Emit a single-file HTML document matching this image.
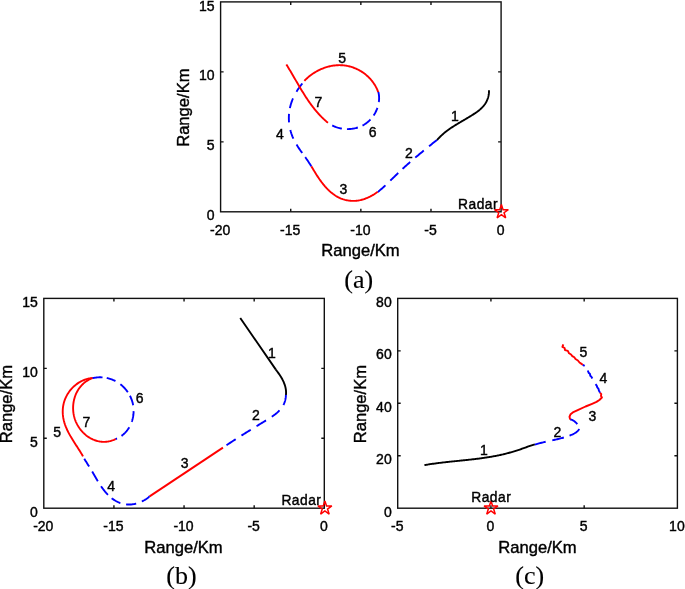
<!DOCTYPE html>
<html><head><meta charset="utf-8"><title>Trajectories</title>
<style>
html,body{margin:0;padding:0;background:#fff;}
svg{display:block}
text{font-family:"Liberation Sans",Arial,sans-serif;fill:#000;stroke:#000;stroke-width:0.4px}
.tk{font-size:14px}
.lb{font-size:16.6px}
.nm{font-size:14px}
.rd{font-size:13.8px;letter-spacing:0.5px}
.cap{font-family:"Liberation Serif","Times New Roman",serif;font-size:26px;stroke-width:0.12px}
</style></head><body>
<svg width="685" height="589" viewBox="0 0 685 589">
<rect width="685" height="589" fill="#fff"/>
<rect x="220.60" y="1.90" width="280.50" height="209.90" fill="none" stroke="#111" stroke-width="1.4"/>
<path d="M290.73 211.80 v-3.00 M290.73 1.90 v3.00 M360.85 211.80 v-3.00 M360.85 1.90 v3.00 M430.98 211.80 v-3.00 M430.98 1.90 v3.00 M220.60 71.87 h3.00 M501.10 71.87 h-3.00 M220.60 141.83 h3.00 M501.10 141.83 h-3.00 " stroke="#111" stroke-width="1.4" fill="none"/>
<text x="220.10" y="234.60" text-anchor="middle" class="tk">-20</text>
<text x="290.23" y="234.60" text-anchor="middle" class="tk">-15</text>
<text x="360.35" y="234.60" text-anchor="middle" class="tk">-10</text>
<text x="430.48" y="234.60" text-anchor="middle" class="tk">-5</text>
<text x="500.60" y="234.60" text-anchor="middle" class="tk">0</text>
<text x="214.60" y="10.50" text-anchor="end" class="tk">15</text>
<text x="214.60" y="80.47" text-anchor="end" class="tk">10</text>
<text x="214.60" y="150.43" text-anchor="end" class="tk">5</text>
<text x="214.60" y="220.40" text-anchor="end" class="tk">0</text>
<text x="360.50" y="256.30" text-anchor="middle" class="lb">Range/Km</text>
<text transform="translate(188.90 107.65) rotate(-90)" text-anchor="middle" class="lb">Range/Km</text>
<path d="M488.98 90.28 L489.00 91.20 L488.98 92.11 L488.92 93.01 L488.83 93.90 L488.71 94.77 L488.55 95.63 L488.36 96.47 L488.15 97.30 L487.90 98.12 L487.62 98.92 L487.32 99.71 L486.98 100.48 L486.63 101.24 L486.24 101.98 L485.83 102.70 L485.39 103.41 L484.93 104.11 L484.45 104.78 L483.95 105.44 L483.42 106.09 L482.88 106.71 L482.31 107.32 L481.73 107.92 L481.13 108.49 L480.51 109.06 L479.88 109.61 L479.23 110.15 L478.57 110.68 L477.90 111.20 L477.22 111.71 L476.53 112.20 L475.84 112.69 L475.13 113.18 L474.42 113.65 L473.71 114.12 L472.99 114.58 L472.27 115.04 L471.54 115.50 L470.82 115.95 L470.09 116.40 L469.36 116.84 L468.63 117.28 L467.90 117.72 L467.17 118.16 L466.44 118.59 L465.70 119.02 L464.97 119.45 L464.23 119.88 L463.50 120.31 L462.76 120.74 L462.03 121.17 L461.30 121.60 L460.57 122.03 L459.84 122.46 L459.11 122.90 L458.38 123.33 L457.65 123.77 L456.93 124.20 L456.20 124.65 L455.48 125.09 L454.77 125.54 L454.05 125.99 L453.34 126.44 L452.63 126.90 L451.92 127.36 L451.22 127.83 L450.52 128.30 L449.83 128.78 L449.14 129.27 L448.45 129.76 L447.77 130.26 L447.09 130.76 L446.42 131.27 L445.75 131.79 L445.09 132.32 L444.43 132.85 L443.78 133.39 L443.14 133.94 L442.50 134.51 L441.87 135.08 L441.24 135.65 L440.62 136.24 L440.01 136.85 L439.41 137.46 L438.81 138.08 L438.22 138.71 L437.64 139.36 L437.06 140.01" fill="none" stroke="#000" stroke-width="1.9" stroke-linejoin="round"/>
<path d="M437.00 139.90 L436.34 140.43 L435.67 140.96 L435.01 141.49 L434.35 142.02 L433.69 142.55 L433.03 143.09 L432.36 143.62 L431.70 144.15 L431.04 144.68 L430.38 145.22 L429.72 145.75 L429.06 146.28 L428.40 146.82 L427.74 147.35 L427.08 147.89 L426.42 148.42 L425.76 148.96 L425.10 149.49 L424.44 150.03 L423.79 150.57 L423.13 151.11 L422.47 151.65 L421.82 152.19 L421.16 152.73 L420.51 153.27 L419.85 153.81 L419.20 154.35 L418.55 154.90 L417.90 155.44 L417.25 155.99 L416.60 156.53 L415.95 157.08 L415.30 157.63 L414.65 158.18 L414.01 158.73 L413.36 159.28 L412.72 159.84 L412.07 160.39 L411.43 160.95 L410.79 161.50 L410.15 162.06 L409.51 162.62 L408.88 163.18 L408.24 163.74 L407.61 164.31 L406.97 164.87 L406.34 165.44 L405.71 166.01 L405.08 166.57 L404.45 167.15 L403.83 167.72 L403.20 168.29 L402.58 168.87 L401.96 169.45 L401.34 170.03 L400.72 170.61 L400.10 171.19 L399.48 171.77 L398.87 172.36 L398.25 172.94 L397.64 173.53 L397.03 174.12 L396.42 174.71 L395.81 175.29 L395.20 175.89 L394.59 176.48 L393.98 177.07 L393.37 177.66 L392.76 178.25 L392.16 178.84 L391.55 179.44 L390.94 180.03 L390.34 180.62 L389.73 181.22 L389.13 181.81 L388.52 182.40 L387.91 182.99 L387.30 183.58 L386.69 184.17 L386.08 184.75 L385.47 185.33 L384.85 185.91 L384.23 186.49 L383.60 187.06 L382.97 187.62 L382.34 188.18 L381.70 188.74 L381.05 189.29 L380.40 189.83 L379.74 190.37 L379.08 190.89 L378.41 191.42 L377.73 191.93" fill="none" stroke="#0000ff" stroke-width="1.9" stroke-dasharray="10.19 6.79 11.04 6.79 10.19 5.94 11.03 6.78 10.17 1000.00"/>
<path d="M377.66 191.77 L377.00 192.28 L376.32 192.77 L375.64 193.26 L374.94 193.74 L374.23 194.21 L373.51 194.66 L372.78 195.10 L372.04 195.53 L371.29 195.95 L370.54 196.35 L369.77 196.74 L369.00 197.11 L368.22 197.47 L367.43 197.81 L366.63 198.14 L365.83 198.45 L365.03 198.75 L364.21 199.03 L363.40 199.29 L362.58 199.53 L361.75 199.75 L360.92 199.96 L360.09 200.15 L359.25 200.31 L358.42 200.46 L357.58 200.58 L356.74 200.69 L355.90 200.77 L355.05 200.83 L354.21 200.87 L353.37 200.89 L352.53 200.88 L351.69 200.86 L350.86 200.81 L350.02 200.74 L349.19 200.64 L348.36 200.53 L347.54 200.40 L346.71 200.24 L345.90 200.07 L345.09 199.87 L344.28 199.65 L343.49 199.42 L342.69 199.16 L341.91 198.88 L341.13 198.59 L340.37 198.27 L339.61 197.94 L338.86 197.58 L338.11 197.21 L337.38 196.81 L336.66 196.40 L335.95 195.98 L335.24 195.53 L334.55 195.07 L333.86 194.59 L333.18 194.10 L332.52 193.59 L331.86 193.07 L331.20 192.54 L330.56 191.99 L329.93 191.42 L329.30 190.85 L328.68 190.26 L328.07 189.67 L327.47 189.06 L326.87 188.44 L326.29 187.81 L325.71 187.17 L325.13 186.53 L324.57 185.87 L324.01 185.21 L323.46 184.54 L322.92 183.86 L322.38 183.18 L321.86 182.49 L321.33 181.80 L320.82 181.10 L320.31 180.40 L319.81 179.69 L319.31 178.99 L318.82 178.27 L318.34 177.56 L317.86 176.85 L317.39 176.13 L316.93 175.41 L316.47 174.70 L316.01 173.98 L315.56 173.27 L315.12 172.55 L314.68 171.84 L314.25 171.13 L313.83 170.43 L313.41 169.72 L312.99 169.03 L312.58 168.33 L312.17 167.64 L311.77 166.96 L311.37 166.28" fill="none" stroke="#ff0000" stroke-width="1.9" stroke-linejoin="round"/>
<path d="M311.23 166.26 L310.81 165.53 L310.37 164.81 L309.93 164.10 L309.48 163.39 L309.02 162.68 L308.56 161.98 L308.09 161.28 L307.62 160.58 L307.14 159.88 L306.66 159.19 L306.17 158.50 L305.68 157.81 L305.19 157.12 L304.69 156.43 L304.20 155.74 L303.70 155.06 L303.20 154.37 L302.71 153.68 L302.21 152.99 L301.72 152.31 L301.23 151.62 L300.74 150.93 L300.25 150.23 L299.77 149.54 L299.29 148.84 L298.82 148.14 L298.35 147.44 L297.89 146.73 L297.44 146.03 L296.99 145.31 L296.55 144.60 L296.12 143.87 L295.69 143.15 L295.28 142.42 L294.88 141.68 L294.49 140.94 L294.10 140.19 L293.74 139.44 L293.38 138.68 L293.03 137.91 L292.70 137.14 L292.38 136.36 L292.08 135.57 L291.79 134.78 L291.51 133.98 L291.24 133.18 L290.99 132.37 L290.75 131.56 L290.53 130.74 L290.32 129.92 L290.12 129.10 L289.94 128.27 L289.77 127.44 L289.62 126.60 L289.48 125.77 L289.35 124.93 L289.24 124.09 L289.14 123.25 L289.06 122.40 L288.99 121.56 L288.93 120.71 L288.89 119.86 L288.87 119.02 L288.86 118.17 L288.86 117.32 L288.88 116.48 L288.91 115.63 L288.96 114.79 L289.03 113.94 L289.11 113.10 L289.20 112.26 L289.31 111.43 L289.44 110.59 L289.58 109.76 L289.73 108.93 L289.90 108.10 L290.08 107.28 L290.28 106.46 L290.49 105.64 L290.71 104.83 L290.95 104.02 L291.20 103.21 L291.46 102.41 L291.74 101.61 L292.03 100.82 L292.33 100.03 L292.65 99.24 L292.98 98.47 L293.32 97.69 L293.67 96.92 L294.03 96.16 L294.41 95.41 L294.80 94.65 L295.20 93.91 L295.61 93.17 L296.03 92.44 L296.47 91.72 L296.91 91.00 L297.37 90.29 L297.83 89.58 L298.31 88.88 L298.79 88.19 L299.28 87.50 L299.77 86.81 L300.27 86.14 L300.78 85.46 L301.29 84.79 L301.81 84.12 L302.32 83.46 L302.85 82.80 L303.37 82.15 L303.89 81.49 L304.41 80.84" fill="none" stroke="#0000ff" stroke-width="1.9" stroke-dasharray="10.96 5.08 10.13 6.72 9.29 7.63 8.47 5.91 10.13 7.61 10.13 1000.00"/>
<path d="M304.37 80.86 L304.95 80.25 L305.54 79.66 L306.14 79.07 L306.76 78.50 L307.38 77.93 L308.01 77.38 L308.66 76.83 L309.31 76.29 L309.97 75.77 L310.65 75.25 L311.33 74.75 L312.02 74.26 L312.72 73.77 L313.43 73.30 L314.15 72.84 L314.87 72.39 L315.61 71.95 L316.35 71.53 L317.09 71.12 L317.85 70.71 L318.61 70.33 L319.37 69.95 L320.15 69.59 L320.93 69.24 L321.71 68.90 L322.50 68.58 L323.29 68.27 L324.09 67.97 L324.90 67.69 L325.70 67.42 L326.52 67.16 L327.33 66.92 L328.15 66.70 L328.97 66.49 L329.80 66.29 L330.62 66.11 L331.45 65.94 L332.28 65.79 L333.12 65.66 L333.95 65.54 L334.79 65.44 L335.62 65.35 L336.46 65.28 L337.30 65.22 L338.14 65.19 L338.98 65.17 L339.81 65.16 L340.65 65.18 L341.49 65.21 L342.32 65.26 L343.15 65.32 L343.99 65.41 L344.81 65.51 L345.64 65.63 L346.47 65.76 L347.29 65.92 L348.11 66.09 L348.92 66.27 L349.73 66.48 L350.54 66.70 L351.34 66.93 L352.14 67.19 L352.93 67.45 L353.72 67.74 L354.50 68.04 L355.28 68.36 L356.05 68.69 L356.81 69.03 L357.57 69.39 L358.32 69.77 L359.06 70.16 L359.80 70.57 L360.53 70.99 L361.25 71.43 L361.96 71.88 L362.66 72.34 L363.35 72.82 L364.04 73.31 L364.71 73.82 L365.38 74.34 L366.03 74.87 L366.68 75.42 L367.31 75.98 L367.93 76.55 L368.54 77.13 L369.14 77.73 L369.73 78.34 L370.31 78.97 L370.87 79.60 L371.42 80.25 L371.96 80.91 L372.48 81.59 L372.99 82.27 L373.49 82.97 L373.97 83.67 L374.44 84.39 L374.89 85.12 L375.33 85.86 L375.75 86.62 L376.16 87.38 L376.55 88.15 L376.92 88.94 L377.28 89.73 L377.62 90.54 L377.95 91.35 L378.26 92.18" fill="none" stroke="#ff0000" stroke-width="1.9" stroke-linejoin="round"/>
<path d="M378.37 92.02 L378.55 92.83 L378.71 93.65 L378.85 94.48 L378.95 95.31 L379.03 96.14 L379.08 96.98 L379.10 97.82 L379.09 98.66 L379.07 99.50 L379.01 100.34 L378.93 101.19 L378.82 102.03 L378.69 102.87 L378.54 103.70 L378.36 104.54 L378.16 105.37 L377.94 106.19 L377.70 107.01 L377.43 107.82 L377.14 108.63 L376.83 109.43 L376.50 110.22 L376.15 111.01 L375.78 111.78 L375.39 112.54 L374.98 113.29 L374.55 114.03 L374.10 114.76 L373.64 115.48 L373.15 116.18 L372.65 116.87 L372.14 117.54 L371.60 118.20 L371.05 118.84 L370.49 119.47 L369.90 120.08 L369.31 120.67 L368.69 121.24 L368.06 121.80 L367.42 122.34 L366.76 122.86 L366.09 123.36 L365.40 123.84 L364.70 124.31 L363.99 124.75 L363.26 125.17 L362.52 125.57 L361.77 125.94 L361.00 126.30 L360.23 126.63 L359.44 126.95 L358.64 127.24 L357.84 127.51 L357.03 127.75 L356.21 127.98 L355.39 128.19 L354.56 128.37 L353.73 128.53 L352.89 128.67 L352.05 128.80 L351.20 128.90 L350.36 128.97 L349.51 129.03 L348.66 129.07 L347.81 129.08 L346.95 129.08 L346.10 129.05 L345.25 129.00 L344.41 128.94 L343.56 128.85 L342.72 128.74 L341.88 128.61 L341.04 128.45 L340.21 128.28 L339.38 128.09 L338.56 127.87 L337.75 127.64 L336.94 127.39 L336.14 127.11 L335.35 126.81 L334.56 126.50 L333.79 126.16 L333.03 125.80 L332.27 125.42 L331.53 125.02 L330.80 124.60 L330.08 124.16 L329.37 123.70 L328.68 123.22 L328.00 122.72" fill="none" stroke="#0000ff" stroke-width="1.9" stroke-dasharray="10.08 5.97 8.57 5.09 10.08 5.07 11.05 5.11 10.16 1000.00"/>
<path d="M327.97 122.75 L327.30 122.21 L326.65 121.66 L326.00 121.11 L325.36 120.55 L324.72 119.98 L324.10 119.40 L323.48 118.83 L322.86 118.24 L322.25 117.65 L321.65 117.05 L321.05 116.45 L320.46 115.85 L319.88 115.24 L319.30 114.62 L318.73 114.00 L318.16 113.37 L317.60 112.74 L317.04 112.10 L316.49 111.46 L315.95 110.82 L315.41 110.17 L314.87 109.52 L314.34 108.86 L313.81 108.20 L313.29 107.53 L312.77 106.86 L312.26 106.19 L311.75 105.51 L311.25 104.83 L310.75 104.15 L310.25 103.46 L309.76 102.77 L309.27 102.08 L308.78 101.38 L308.30 100.68 L307.82 99.98 L307.35 99.28 L306.87 98.57 L306.40 97.86 L305.94 97.15 L305.47 96.44 L305.01 95.72 L304.56 95.00 L304.10 94.28 L303.65 93.56 L303.20 92.84 L302.75 92.11 L302.30 91.38 L301.86 90.66 L301.42 89.93 L300.98 89.20 L300.54 88.46 L300.10 87.73 L299.67 87.00 L299.23 86.26 L298.80 85.53 L298.37 84.79 L297.94 84.06 L297.51 83.32 L297.08 82.59 L296.65 81.85 L296.22 81.11 L295.79 80.38 L295.37 79.64 L294.94 78.90 L294.51 78.17 L294.09 77.43 L293.66 76.70 L293.23 75.97 L292.81 75.23 L292.38 74.50 L291.95 73.77 L291.52 73.04 L291.09 72.31 L290.66 71.58 L290.23 70.86 L289.80 70.13 L289.37 69.41 L288.93 68.69 L288.50 67.97 L288.06 67.25 L287.62 66.54 L287.18 65.83 L286.74 65.11 L286.30 64.41" fill="none" stroke="#ff0000" stroke-width="1.9" stroke-linejoin="round"/>
<path d="M501.40 204.60 L503.04 209.64 L508.34 209.64 L504.05 212.76 L505.69 217.81 L501.40 214.69 L497.11 217.81 L498.75 212.76 L494.46 209.64 L499.76 209.64Z" fill="none" stroke="#ff0000" stroke-width="1.5" stroke-linejoin="miter" stroke-miterlimit="2.2"/>
<text x="458.0" y="208.6" class="rd">Radar</text>
<text x="454.85" y="120.70" text-anchor="middle" class="nm">1</text>
<text x="408.80" y="158.10" text-anchor="middle" class="nm">2</text>
<text x="343.50" y="194.20" text-anchor="middle" class="nm">3</text>
<text x="280.00" y="138.90" text-anchor="middle" class="nm">4</text>
<text x="342.20" y="62.90" text-anchor="middle" class="nm">5</text>
<text x="372.60" y="136.60" text-anchor="middle" class="nm">6</text>
<text x="318.35" y="106.60" text-anchor="middle" class="nm">7</text>
<text x="358.7" y="288.0" text-anchor="middle" class="cap">(a)</text>
<rect x="43.80" y="298.40" width="280.50" height="209.80" fill="none" stroke="#111" stroke-width="1.4"/>
<path d="M113.92 508.20 v-3.00 M113.92 298.40 v3.00 M184.05 508.20 v-3.00 M184.05 298.40 v3.00 M254.18 508.20 v-3.00 M254.18 298.40 v3.00 M43.80 368.33 h3.00 M324.30 368.33 h-3.00 M43.80 438.27 h3.00 M324.30 438.27 h-3.00 " stroke="#111" stroke-width="1.4" fill="none"/>
<text x="43.30" y="531.00" text-anchor="middle" class="tk">-20</text>
<text x="113.42" y="531.00" text-anchor="middle" class="tk">-15</text>
<text x="183.55" y="531.00" text-anchor="middle" class="tk">-10</text>
<text x="253.68" y="531.00" text-anchor="middle" class="tk">-5</text>
<text x="323.80" y="531.00" text-anchor="middle" class="tk">0</text>
<text x="37.80" y="307.00" text-anchor="end" class="tk">15</text>
<text x="37.80" y="376.93" text-anchor="end" class="tk">10</text>
<text x="37.80" y="446.87" text-anchor="end" class="tk">5</text>
<text x="37.80" y="516.80" text-anchor="end" class="tk">0</text>
<text x="183.50" y="552.70" text-anchor="middle" class="lb">Range/Km</text>
<text transform="translate(11.90 404.10) rotate(-90)" text-anchor="middle" class="lb">Range/Km</text>
<path d="M240.25 317.95 L258.05 343.80 L275.85 369.60" fill="none" stroke="#000" stroke-width="1.9" stroke-linejoin="round"/>
<path d="M275.83 369.62 L276.35 370.31 L276.88 371.00 L277.40 371.70 L277.91 372.40 L278.42 373.11 L278.93 373.83 L279.42 374.56 L279.91 375.29 L280.39 376.03 L280.86 376.78 L281.32 377.53 L281.76 378.30 L282.19 379.06 L282.60 379.84 L282.99 380.62 L283.37 381.41 L283.73 382.21 L284.06 383.02 L284.38 383.83 L284.67 384.64 L284.94 385.47 L285.18 386.30 L285.39 387.14 L285.58 387.99 L285.74 388.84 L285.87 389.70 L285.97 390.57 L286.03 391.45 L286.06 392.33 L286.06 393.22 L286.02 394.11 L285.94 395.02" fill="none" stroke="#000" stroke-width="1.9" stroke-linejoin="round"/>
<path d="M285.91 394.86 L285.88 395.80 L285.82 396.73 L285.72 397.63 L285.59 398.52 L285.43 399.39 L285.23 400.24 L285.00 401.07 L284.74 401.88 L284.45 402.68 L284.13 403.46 L283.78 404.22 L283.40 404.97 L283.00 405.69 L282.58 406.41 L282.13 407.10 L281.66 407.78 L281.17 408.44 L280.65 409.09 L280.12 409.72 L279.56 410.34 L278.99 410.94 L278.41 411.53 L277.80 412.10 L277.19 412.66 L276.55 413.21 L275.91 413.74 L275.25 414.27 L274.58 414.78 L273.90 415.28 L273.21 415.78 L272.51 416.27 L271.81 416.75 L271.10 417.22 L270.38 417.69 L269.66 418.15 L268.93 418.61 L268.20 419.07 L267.47 419.52 L266.74 419.97 L266.00 420.42 L265.27 420.87 L264.54 421.32 L263.81 421.76 L263.08 422.21 L262.35 422.65 L261.62 423.10 L260.89 423.54 L260.16 423.99 L259.44 424.43 L258.71 424.88 L257.98 425.32 L257.26 425.76 L256.54 426.21 L255.81 426.65 L255.09 427.09 L254.37 427.54 L253.64 427.98 L252.92 428.42 L252.20 428.87 L251.48 429.31 L250.76 429.75 L250.04 430.20 L249.32 430.64 L248.61 431.09 L247.89 431.53 L247.17 431.98 L246.45 432.42 L245.74 432.87 L245.02 433.32 L244.30 433.76 L243.59 434.21 L242.87 434.66 L242.16 435.11 L241.45 435.56 L240.73 436.01 L240.02 436.46 L239.30 436.91 L238.59 437.37 L237.88 437.82 L237.17 438.27 L236.45 438.73 L235.74 439.19 L235.03 439.65 L234.32 440.11 L233.61 440.57 L232.90 441.03 L232.18 441.49 L231.47 441.96 L230.76 442.42 L230.05 442.89 L229.34 443.36 L228.63 443.83 L227.92 444.30 L227.21 444.77 L226.50 445.25 L225.79 445.72 L225.08 446.20 L224.37 446.68 L223.66 447.16 L222.95 447.65" fill="none" stroke="#0000ff" stroke-width="1.9" stroke-dasharray="10.51 6.62 10.09 6.87 11.10 6.78 10.98 6.76 11.05 1000.00"/>
<path d="M222.95 447.60 L149.60 496.40" fill="none" stroke="#ff0000" stroke-width="1.9" stroke-linejoin="round"/>
<path d="M149.59 496.34 L148.96 496.89 L148.32 497.43 L147.66 497.95 L146.99 498.45 L146.30 498.94 L145.59 499.41 L144.87 499.86 L144.13 500.30 L143.38 500.72 L142.62 501.11 L141.85 501.49 L141.06 501.85 L140.27 502.19 L139.47 502.51 L138.66 502.81 L137.84 503.09 L137.02 503.34 L136.19 503.57 L135.36 503.78 L134.52 503.97 L133.68 504.13 L132.83 504.26 L131.99 504.37 L131.14 504.46 L130.29 504.52 L129.45 504.55 L128.60 504.55 L127.76 504.53 L126.92 504.48 L126.09 504.40 L125.26 504.29 L124.43 504.15 L123.62 503.99 L122.80 503.80 L122.00 503.58 L121.20 503.33 L120.41 503.06 L119.63 502.77 L118.85 502.45 L118.09 502.11 L117.33 501.74 L116.58 501.36 L115.85 500.96 L115.12 500.53 L114.41 500.09 L113.70 499.63 L113.01 499.15 L112.33 498.66 L111.66 498.15 L111.01 497.63 L110.37 497.09 L109.74 496.54 L109.12 495.97 L108.52 495.39 L107.93 494.80 L107.34 494.20 L106.77 493.58 L106.21 492.96 L105.66 492.32 L105.11 491.68 L104.58 491.02 L104.05 490.36 L103.53 489.69 L103.03 489.01 L102.52 488.32 L102.03 487.63 L101.54 486.92 L101.06 486.22 L100.58 485.50 L100.11 484.79 L99.65 484.06 L99.19 483.34 L98.73 482.61 L98.28 481.88 L97.83 481.14 L97.39 480.40 L96.95 479.66 L96.51 478.92 L96.07 478.18 L95.64 477.44 L95.21 476.70 L94.77 475.96 L94.34 475.22 L93.91 474.49 L93.48 473.75 L93.05 473.02 L92.62 472.29 L92.19 471.57 L91.75 470.85 L91.32 470.13 L90.88 469.41 L90.44 468.70 L90.01 467.99 L89.57 467.28 L89.13 466.58 L88.69 465.87 L88.25 465.17 L87.80 464.46 L87.36 463.75 L86.92 463.04 L86.48 462.33 L86.04 461.62 L85.59 460.91 L85.15 460.19 L84.71 459.47 L84.27 458.75 L83.83 458.02 L83.39 457.28 L82.95 456.54" fill="none" stroke="#0000ff" stroke-width="1.9" stroke-dasharray="9.33 6.04 10.19 5.85 10.07 5.02 11.01 6.02 11.12 5.85 9.22 1000.00"/>
<path d="M83.02 456.41 L82.63 455.71 L82.24 455.02 L81.84 454.33 L81.42 453.63 L81.00 452.94 L80.58 452.24 L80.14 451.54 L79.71 450.84 L79.26 450.13 L78.81 449.43 L78.36 448.72 L77.90 448.01 L77.44 447.30 L76.98 446.59 L76.52 445.87 L76.05 445.16 L75.59 444.44 L75.12 443.71 L74.66 442.99 L74.19 442.26 L73.73 441.53 L73.27 440.80 L72.81 440.07 L72.36 439.33 L71.90 438.59 L71.46 437.85 L71.02 437.11 L70.58 436.36 L70.15 435.61 L69.73 434.85 L69.31 434.10 L68.90 433.34 L68.50 432.58 L68.11 431.81 L67.73 431.04 L67.35 430.27 L66.99 429.49 L66.64 428.71 L66.30 427.93 L65.97 427.15 L65.66 426.36 L65.36 425.56 L65.07 424.77 L64.80 423.97 L64.54 423.16 L64.30 422.36 L64.08 421.54 L63.87 420.73 L63.68 419.91 L63.50 419.09 L63.34 418.26 L63.20 417.44 L63.08 416.61 L62.98 415.78 L62.89 414.95 L62.82 414.11 L62.77 413.28 L62.74 412.45 L62.73 411.61 L62.74 410.78 L62.77 409.95 L62.81 409.12 L62.88 408.29 L62.97 407.47 L63.07 406.64 L63.20 405.82 L63.35 405.00 L63.52 404.19 L63.71 403.38 L63.92 402.57 L64.15 401.77 L64.40 400.97 L64.68 400.18 L64.97 399.40 L65.29 398.62 L65.62 397.85 L65.98 397.09 L66.35 396.33 L66.74 395.59 L67.15 394.85 L67.58 394.12 L68.03 393.40 L68.49 392.69 L68.97 391.99 L69.47 391.31 L69.98 390.63 L70.52 389.97 L71.06 389.32 L71.63 388.68 L72.20 388.06 L72.80 387.45 L73.41 386.85 L74.03 386.27 L74.67 385.71 L75.32 385.16 L75.98 384.63 L76.66 384.11 L77.35 383.62 L78.05 383.13 L78.77 382.67 L79.49 382.23 L80.23 381.80 L80.98 381.40 L81.75 381.01 L82.52 380.65 L83.30 380.31 L84.09 379.99 L84.90 379.69 L85.71 379.41 L86.53 379.15 L87.36 378.92 L88.20 378.72 L89.05 378.53 L89.90 378.37 L90.76 378.24 L91.63 378.13 L92.51 378.05" fill="none" stroke="#ff0000" stroke-width="1.9" stroke-linejoin="round"/>
<path d="M92.30 378.19 L93.15 378.00 L94.00 377.83 L94.85 377.69 L95.70 377.57 L96.56 377.47 L97.41 377.39 L98.27 377.33 L99.13 377.30 L99.98 377.29 L100.84 377.30 L101.69 377.34 L102.54 377.39 L103.38 377.47 L104.23 377.57 L105.07 377.69 L105.91 377.83 L106.74 377.99 L107.57 378.17 L108.39 378.37 L109.20 378.59 L110.01 378.83 L110.81 379.10 L111.61 379.38 L112.39 379.68 L113.17 380.00 L113.94 380.35 L114.70 380.71 L115.44 381.09 L116.18 381.48 L116.91 381.90 L117.63 382.34 L118.33 382.79 L119.02 383.26 L119.71 383.75 L120.37 384.26 L121.03 384.78 L121.67 385.32 L122.30 385.87 L122.92 386.44 L123.52 387.02 L124.11 387.62 L124.68 388.23 L125.24 388.85 L125.78 389.49 L126.31 390.14 L126.82 390.81 L127.32 391.48 L127.80 392.17 L128.26 392.87 L128.71 393.58 L129.13 394.30 L129.55 395.03 L129.94 395.76 L130.31 396.51 L130.67 397.27 L131.01 398.04 L131.32 398.81 L131.62 399.59 L131.90 400.38 L132.16 401.18 L132.40 401.98 L132.62 402.79 L132.82 403.60 L132.99 404.42 L133.15 405.24 L133.28 406.07 L133.39 406.91 L133.48 407.74 L133.54 408.58 L133.59 409.42 L133.61 410.26 L133.62 411.11 L133.60 411.95 L133.56 412.79 L133.49 413.64 L133.41 414.48 L133.31 415.32 L133.18 416.15 L133.04 416.98 L132.87 417.81 L132.68 418.64 L132.47 419.45 L132.25 420.27 L132.00 421.07 L131.73 421.87 L131.44 422.66 L131.13 423.44 L130.79 424.22 L130.44 424.98 L130.07 425.73 L129.68 426.48 L129.27 427.21 L128.84 427.93 L128.39 428.63 L127.92 429.33 L127.43 430.01 L126.92 430.67 L126.40 431.32 L125.85 431.95 L125.28 432.57 L124.70 433.17 L124.09 433.75 L123.47 434.32 L122.82 434.86 L122.16 435.39 L121.48 435.89 L120.78 436.38 L120.06 436.84 L119.33 437.28 L118.57 437.70 L117.80 438.10 L117.01 438.47 L116.20 438.81 L115.37 439.14" fill="none" stroke="#0000ff" stroke-width="1.9" stroke-dasharray="10.31 4.25 9.27 5.87 10.89 4.19 10.05 5.89 10.98 5.88 11.75 5.17 1.77 1000.00"/>
<path d="M115.66 439.03 L114.84 439.43 L114.00 439.80 L113.17 440.14 L112.33 440.44 L111.49 440.72 L110.64 440.96 L109.80 441.17 L108.95 441.35 L108.11 441.51 L107.26 441.63 L106.41 441.73 L105.57 441.80 L104.73 441.84 L103.89 441.85 L103.05 441.83 L102.21 441.79 L101.38 441.72 L100.56 441.63 L99.73 441.51 L98.92 441.36 L98.11 441.19 L97.30 441.00 L96.50 440.78 L95.71 440.53 L94.93 440.27 L94.15 439.98 L93.38 439.66 L92.63 439.33 L91.88 438.97 L91.14 438.60 L90.41 438.20 L89.69 437.78 L88.98 437.34 L88.28 436.89 L87.60 436.41 L86.92 435.91 L86.26 435.40 L85.61 434.87 L84.97 434.33 L84.34 433.76 L83.73 433.18 L83.13 432.59 L82.55 431.98 L81.98 431.35 L81.42 430.71 L80.88 430.06 L80.36 429.39 L79.85 428.72 L79.35 428.03 L78.88 427.32 L78.42 426.61 L77.98 425.88 L77.55 425.15 L77.14 424.40 L76.75 423.65 L76.38 422.88 L76.03 422.11 L75.70 421.33 L75.39 420.54 L75.09 419.74 L74.82 418.94 L74.57 418.13 L74.33 417.31 L74.12 416.49 L73.93 415.67 L73.76 414.84 L73.61 414.01 L73.47 413.17 L73.36 412.33 L73.27 411.49 L73.20 410.65 L73.15 409.80 L73.11 408.96 L73.10 408.12 L73.11 407.27 L73.14 406.43 L73.18 405.58 L73.25 404.74 L73.34 403.91 L73.44 403.07 L73.57 402.24 L73.71 401.41 L73.88 400.58 L74.06 399.77 L74.26 398.95 L74.49 398.14 L74.73 397.34 L74.99 396.55 L75.27 395.76 L75.57 394.98 L75.89 394.21 L76.23 393.44 L76.59 392.69 L76.97 391.95 L77.36 391.21 L77.78 390.49 L78.21 389.78 L78.67 389.08 L79.14 388.39 L79.63 387.72 L80.14 387.06 L80.67 386.41 L81.22 385.78 L81.79 385.16 L82.37 384.56 L82.98 383.98 L83.60 383.41 L84.24 382.85 L84.91 382.32 L85.59 381.80 L86.28 381.30 L87.00 380.82 L87.74 380.36 L88.49 379.92 L89.26 379.50 L90.05 379.10 L90.86 378.72 L91.69 378.36 L92.54 378.03" fill="none" stroke="#ff0000" stroke-width="1.9" stroke-linejoin="round"/>
<path d="M324.90 500.90 L326.54 505.94 L331.84 505.94 L327.55 509.06 L329.19 514.11 L324.90 510.99 L320.61 514.11 L322.25 509.06 L317.96 505.94 L323.26 505.94Z" fill="none" stroke="#ff0000" stroke-width="1.5" stroke-linejoin="miter" stroke-miterlimit="2.2"/>
<text x="281.4" y="504.8" class="rd">Radar</text>
<text x="271.90" y="357.80" text-anchor="middle" class="nm">1</text>
<text x="255.80" y="419.90" text-anchor="middle" class="nm">2</text>
<text x="184.65" y="468.00" text-anchor="middle" class="nm">3</text>
<text x="111.03" y="490.70" text-anchor="middle" class="nm">4</text>
<text x="57.20" y="436.90" text-anchor="middle" class="nm">5</text>
<text x="139.60" y="402.90" text-anchor="middle" class="nm">6</text>
<text x="86.28" y="426.95" text-anchor="middle" class="nm">7</text>
<text x="181.5" y="584.1" text-anchor="middle" class="cap">(b)</text>
<rect x="397.70" y="298.40" width="279.70" height="209.80" fill="none" stroke="#111" stroke-width="1.4"/>
<path d="M490.93 508.20 v-3.00 M490.93 298.40 v3.00 M584.17 508.20 v-3.00 M584.17 298.40 v3.00 M397.70 350.85 h3.00 M677.40 350.85 h-3.00 M397.70 403.30 h3.00 M677.40 403.30 h-3.00 M397.70 455.75 h3.00 M677.40 455.75 h-3.00 " stroke="#111" stroke-width="1.4" fill="none"/>
<text x="397.20" y="531.00" text-anchor="middle" class="tk">-5</text>
<text x="490.43" y="531.00" text-anchor="middle" class="tk">0</text>
<text x="583.67" y="531.00" text-anchor="middle" class="tk">5</text>
<text x="676.90" y="531.00" text-anchor="middle" class="tk">10</text>
<text x="391.70" y="307.00" text-anchor="end" class="tk">80</text>
<text x="391.70" y="359.45" text-anchor="end" class="tk">60</text>
<text x="391.70" y="411.90" text-anchor="end" class="tk">40</text>
<text x="391.70" y="464.35" text-anchor="end" class="tk">20</text>
<text x="391.70" y="516.80" text-anchor="end" class="tk">0</text>
<text x="537.50" y="552.70" text-anchor="middle" class="lb">Range/Km</text>
<text transform="translate(365.90 404.10) rotate(-90)" text-anchor="middle" class="lb">Range/Km</text>
<path d="M424.42 465.13 L425.25 464.98 L426.08 464.84 L426.90 464.70 L427.73 464.57 L428.56 464.43 L429.39 464.30 L430.22 464.18 L431.05 464.05 L431.88 463.93 L432.71 463.81 L433.54 463.69 L434.37 463.57 L435.21 463.46 L436.04 463.35 L436.87 463.24 L437.71 463.13 L438.54 463.02 L439.37 462.92 L440.21 462.82 L441.05 462.72 L441.88 462.62 L442.72 462.52 L443.55 462.42 L444.39 462.32 L445.23 462.23 L446.06 462.14 L446.90 462.04 L447.74 461.95 L448.58 461.86 L449.42 461.77 L450.25 461.68 L451.09 461.60 L451.93 461.51 L452.77 461.42 L453.61 461.33 L454.45 461.25 L455.29 461.16 L456.13 461.08 L456.97 460.99 L457.81 460.91 L458.65 460.82 L459.49 460.74 L460.33 460.65 L461.17 460.57 L462.00 460.48 L462.84 460.39 L463.68 460.31 L464.52 460.22 L465.36 460.13 L466.20 460.04 L467.04 459.96 L467.88 459.87 L468.72 459.77 L469.56 459.68 L470.39 459.59 L471.23 459.50 L472.07 459.40 L472.91 459.31 L473.74 459.21 L474.58 459.11 L475.42 459.01 L476.26 458.91 L477.09 458.81 L477.93 458.70 L478.76 458.59 L479.60 458.49 L480.43 458.38 L481.27 458.26 L482.10 458.15 L482.93 458.03 L483.77 457.91 L484.60 457.79 L485.43 457.67 L486.26 457.54 L487.09 457.42 L487.92 457.29 L488.75 457.15 L489.58 457.02 L490.41 456.88 L491.24 456.74 L492.07 456.59 L492.90 456.44 L493.72 456.29 L494.55 456.14 L495.37 455.98 L496.20 455.82 L497.02 455.66 L497.84 455.49 L498.67 455.32 L499.49 455.15 L500.31 454.97 L501.13 454.79 L501.95 454.60 L502.77 454.42 L503.58 454.22 L504.40 454.03 L505.21 453.82 L506.03 453.62 L506.84 453.41 L507.66 453.20 L508.47 452.98 L509.28 452.76 L510.09 452.54 L510.90 452.31 L511.71 452.07 L512.51 451.84 L513.32 451.60 L514.13 451.35 L514.93 451.11 L515.73 450.86 L516.53 450.60 L517.34 450.34 L518.13 450.08 L518.93 449.82 L519.73 449.55 L520.53 449.28 L521.32 449.00 L522.11 448.72 L522.91 448.44 L523.70 448.15 L524.49 447.87 L525.28 447.58 L526.07 447.30 L526.86 447.02 L527.66 446.73 L528.45 446.46 L529.24 446.18 L530.04 445.91 L530.83 445.65 L531.63 445.39 L532.43 445.14 L533.23 444.90 L534.04 444.67 L534.85 444.45" fill="none" stroke="#000" stroke-width="1.9" stroke-linejoin="round"/>
<path d="M534.90 444.62 L535.72 444.36 L536.54 444.11 L537.37 443.87 L538.19 443.63 L539.02 443.40 L539.84 443.18 L540.67 442.96 L541.50 442.75 L542.32 442.55 L543.15 442.35 L543.98 442.15 L544.81 441.96 L545.64 441.77 L546.47 441.58 L547.30 441.40 L548.13 441.22 L548.96 441.03 L549.79 440.86 L550.62 440.68 L551.45 440.50 L552.28 440.32 L553.11 440.14 L553.94 439.96 L554.77 439.77 L555.59 439.59 L556.42 439.40 L557.25 439.21 L558.08 439.01 L558.90 438.81 L559.73 438.61 L560.55 438.40 L561.37 438.18 L562.19 437.96 L563.01 437.73 L563.83 437.49 L564.65 437.25 L565.47 437.00 L566.28 436.74 L567.10 436.47 L567.91 436.19 L568.72 435.91 L569.53 435.61 L570.34 435.30 L571.14 434.98 L571.94 434.64 L572.73 434.28 L573.51 433.90 L574.28 433.49 L575.03 433.05 L575.77 432.59 L576.49 432.08 L577.17 431.54 L577.80 430.95 L578.33 430.33 L578.73 429.66 L578.98 428.94 L579.04 428.18 L578.95 427.40 L578.71 426.59 L578.35 425.77 L577.87 424.96 L577.30 424.16 L576.66 423.39 L575.95 422.65 L575.20 421.97 L574.42 421.34 L573.62 420.78 L572.84 420.30 L572.08 419.92 L571.35 419.64 L570.69 419.48 L570.09 419.45" fill="none" stroke="#0000ff" stroke-width="1.9" stroke-dasharray="11.12 6.80 11.90 6.00 11.92 5.21 8.85 1000.00"/>
<path d="M570.10 419.45 L569.50 416.75 L570.60 414.20 L572.80 412.40 L578.25 409.80 L585.55 406.50 L592.10 403.80 L596.50 401.90 L599.40 399.95 L601.95 397.55 L601.00 395.95 L601.25 394.10 L600.00 392.65" fill="none" stroke="#ff0000" stroke-width="1.9" stroke-linejoin="round"/>
<path d="M600.00 392.65 L598.90 390.60 L598.50 388.80 L597.30 387.40 L596.70 385.60 L595.55 384.20" fill="none" stroke="#0000ff" stroke-width="1.9" stroke-linejoin="round"/>
<path d="M592.35 378.55 L591.50 376.95 L590.30 375.75 L589.90 373.70 L588.70 372.90 L587.80 370.50" fill="none" stroke="#0000ff" stroke-width="1.9" stroke-linejoin="round"/>
<path d="M584.70 365.90 L582.70 364.90" fill="none" stroke="#0000ff" stroke-width="1.9" stroke-linejoin="round"/>
<path d="M582.70 364.90 L581.90 364.10 L579.50 362.50 L577.90 360.50 L575.50 359.00 L574.30 357.30 L572.30 356.10 L571.05 354.50 L569.05 353.30 L567.85 350.85 L565.00 350.05 L564.60 348.00 L562.40 346.80 L563.30 344.40" fill="none" stroke="#ff0000" stroke-width="1.9" stroke-linejoin="round"/>
<path d="M491.00 500.90 L492.64 505.94 L497.94 505.94 L493.65 509.06 L495.29 514.11 L491.00 510.99 L486.71 514.11 L488.35 509.06 L484.06 505.94 L489.36 505.94Z" fill="none" stroke="#ff0000" stroke-width="1.5" stroke-linejoin="miter" stroke-miterlimit="2.2"/>
<text x="471.2" y="501.6" class="rd">Radar</text>
<text x="483.85" y="454.60" text-anchor="middle" class="nm">1</text>
<text x="557.30" y="436.70" text-anchor="middle" class="nm">2</text>
<text x="592.35" y="420.90" text-anchor="middle" class="nm">3</text>
<text x="603.45" y="382.50" text-anchor="middle" class="nm">4</text>
<text x="583.30" y="357.40" text-anchor="middle" class="nm">5</text>
<text x="529.7" y="584.0" text-anchor="middle" class="cap">(c)</text>
</svg>
</body></html>
